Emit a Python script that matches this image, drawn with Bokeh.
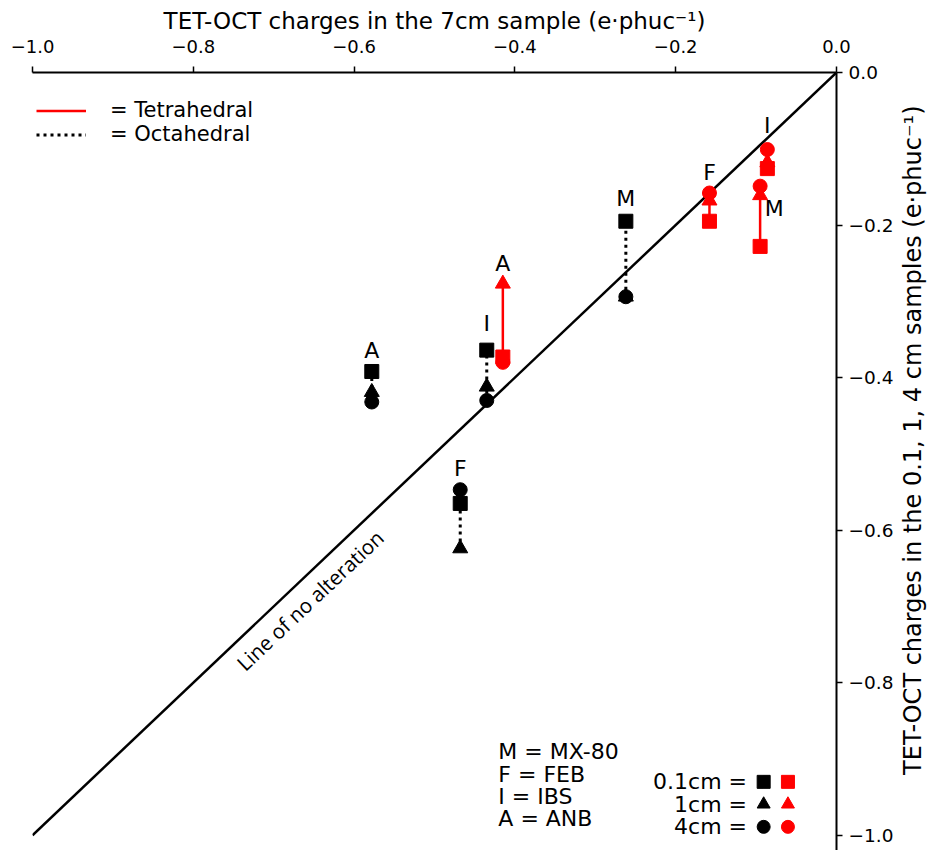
import math
from bokeh.plotting import figure
from bokeh.layouts import row
from bokeh.models import (FixedTicker, CustomJSTickFormatter, Legend, LegendItem,
                          ColumnDataSource)
from bokeh.core.properties import value
from bokeh.embed import file_html
from bokeh.resources import INLINE

# ---------------- data ----------------
groups = ["M", "F", "I", "A"]
# Octahedral charges (black): x = 7cm sample, y = 0.1cm / 1cm / 4cm samples
oct_x7 = [-0.262, -0.468, -0.435, -0.578]
oct_y01 = [-0.195, -0.565, -0.364, -0.392]
oct_y1 = [-0.294, -0.624, -0.412, -0.419]
oct_y4 = [-0.294, -0.547, -0.430, -0.432]
# Tetrahedral charges (red)
tet_x7 = [-0.095, -0.158, -0.086, -0.415]
tet_y01 = [-0.228, -0.195, -0.126, -0.373]
tet_y1 = [-0.161, -0.168, -0.118, -0.277]
tet_y4 = [-0.149, -0.158, -0.101, -0.380]

ticks = [-1.0, -0.8, -0.6, -0.4, -0.2, 0.0]
diag = [-1.0, 0.0]
sample_key = ["M = MX-80", "F = FEB", "I = IBS", "A = ANB"]
depth_key = ["0.1cm =", "1cm =", "4cm ="]
depth_markers = ["square", "triangle", "circle"]
x_title = "TET-OCT charges in the 7cm sample (e\u00b7phuc\u207b\u00b9)"
y_title = "TET-OCT charges in the 0.1, 1, 4 cm samples (e\u00b7phuc\u207b\u00b9)"

# ---------------- layout constants (screen px offsets for point labels) --------
oct_lab_dx = [0, 0, 0, 0]
oct_lab_dy = [-23, -21, -27, -21]
tet_lab_dx = [14, 0, 0, 0]
tet_lab_dy = [22, -21, -24, -20]

FONT = "DejaVu Sans"
RED = "#ff0000"

p = figure(width=896, height=850, x_range=(-1.0, 0.0), y_range=(-1.02, 0.0),
           x_axis_location="above", y_axis_location="right",
           output_backend="svg", toolbar_location=None,
           min_border_left=32, min_border_right=58, min_border_top=72,
           min_border_bottom=0)
p.outline_line_color = None
p.xgrid.visible = False
p.ygrid.visible = False
p.background_fill_color = "white"
p.border_fill_color = "white"

fmt = CustomJSTickFormatter(code="return (tick < -1e-9 ? '\\u2212' : '') + Math.abs(tick).toFixed(1);")
for ax in (p.xaxis[0], p.yaxis[0]):
    ax.ticker = FixedTicker(ticks=ticks)
    ax.formatter = fmt
    ax.axis_line_width = 2
    ax.axis_line_color = "black"
    ax.major_tick_line_width = 1.5
    ax.major_tick_out = 6
    ax.major_tick_in = 0
    ax.minor_tick_line_color = None
    ax.major_label_text_font = FONT
    ax.major_label_text_color = "black"
    ax.axis_label_text_font = FONT
    ax.axis_label_text_font_style = "normal"
    ax.axis_label_text_color = "black"

p.xaxis.major_label_text_font_size = "18px"
p.xaxis.axis_label = x_title
p.xaxis.axis_label_text_font_size = "23px"
p.xaxis.major_label_standoff = 14
p.xaxis.axis_label_standoff = 3
p.yaxis.major_label_text_font_size = "18.5px"
p.yaxis.major_label_standoff = 6
p.yaxis.major_label_text_align = "left"

# line of no alteration
p.line(diag, diag, line_color="black", line_width=2.5)
p.text(x=[-0.655], y=[-0.692], text=["Line of no alteration"],
       angle=math.atan2(763, 806), text_align="center", text_baseline="middle",
       text_font=value("Open Sans"), text_font_size="20.5px", text_color="black")

# connecting segments
oct_lo = [min(a, b, c) for a, b, c in zip(oct_y01, oct_y1, oct_y4)]
oct_hi = [max(a, b, c) for a, b, c in zip(oct_y01, oct_y1, oct_y4)]
tet_lo = [min(a, b, c) for a, b, c in zip(tet_y01, tet_y1, tet_y4)]
tet_hi = [max(a, b, c) for a, b, c in zip(tet_y01, tet_y1, tet_y4)]

r_oct = p.segment(x0=oct_x7, y0=oct_lo, x1=oct_x7, y1=oct_hi, line_color="black",
                  line_width=3, line_dash="3 4")
r_tet = p.segment(x0=tet_x7, y0=tet_lo, x1=tet_x7, y1=tet_hi, line_color=RED,
                  line_width=2.5)

# markers
for xs, ys_list, col in ((oct_x7, (oct_y01, oct_y1, oct_y4), "black"),
                         (tet_x7, (tet_y01, tet_y1, tet_y4), RED)):
    for ys, mk in zip(ys_list, depth_markers):
        sz = 15 if mk == "triangle" else 14
        p.scatter(xs, ys, marker=mk, size=sz, fill_color=col, line_color=col)

# point labels
oct_src = ColumnDataSource(dict(x=oct_x7, y=oct_hi, t=groups, dx=oct_lab_dx, dy=oct_lab_dy))
tet_src = ColumnDataSource(dict(x=tet_x7, y=tet_hi, t=groups, dx=tet_lab_dx, dy=tet_lab_dy))
for src in (oct_src, tet_src):
    p.text(x="x", y="y", text="t", x_offset="dx", y_offset="dy", source=src,
           text_align="center", text_baseline="middle", text_font=value(FONT),
           text_font_size="22px", text_color="black")

# top-left legend
legend = Legend(items=[LegendItem(label="= Tetrahedral", renderers=[r_tet]),
                       LegendItem(label="= Octahedral", renderers=[r_oct])],
                location=(4, 704), orientation="vertical",
                background_fill_alpha=0, border_line_alpha=0,
                padding=0, margin=0, spacing=-10,
                glyph_width=50, glyph_height=21, label_height=21,
                label_standoff=24, label_text_font=FONT,
                label_text_font_size="21px", label_text_color="black")
p.add_layout(legend)

# sample key (bottom)
key_x = -0.4206
key_y = [-0.8908, -0.9200, -0.9498, -0.9780]
p.text(x=[key_x] * 4, y=key_y, text=sample_key, text_align="left",
       text_baseline="middle", text_font=value(FONT), text_font_size="22px",
       text_color="black")

# depth key (bottom right)
dk_x = -0.1113
dk_y = [-0.930, -0.9594, -0.989]
p.text(x=[dk_x] * 3, y=dk_y, text=depth_key, text_align="right",
       text_baseline="middle", text_font=value(FONT), text_font_size="22px",
       text_color="black")
for yy, mk in zip(dk_y, depth_markers):
    p.scatter([-0.0906], [yy], marker=mk, size=13, fill_color="black", line_color="black")
    p.scatter([-0.0604], [yy], marker=mk, size=13, fill_color=RED, line_color=RED)

# right-hand axis title (reads bottom-to-top) in a narrow strip beside the plot
pt = figure(width=36, height=850, x_range=(0, 1), y_range=p.y_range,
            output_backend="svg", toolbar_location=None,
            min_border_left=0, min_border_right=0, min_border_top=72,
            min_border_bottom=0)
pt.axis.visible = False
pt.grid.visible = False
pt.outline_line_color = None
pt.background_fill_color = "white"
pt.border_fill_color = "white"
pt.text(x=[0.472], y=[-0.482], text=[y_title], angle=math.pi / 2,
        text_align="center", text_baseline="middle", text_font=value(FONT),
        text_font_size="24px", text_color="black")

layout = row(p, pt, spacing=0)
open("out.html", "w").write(file_html(layout, INLINE))
